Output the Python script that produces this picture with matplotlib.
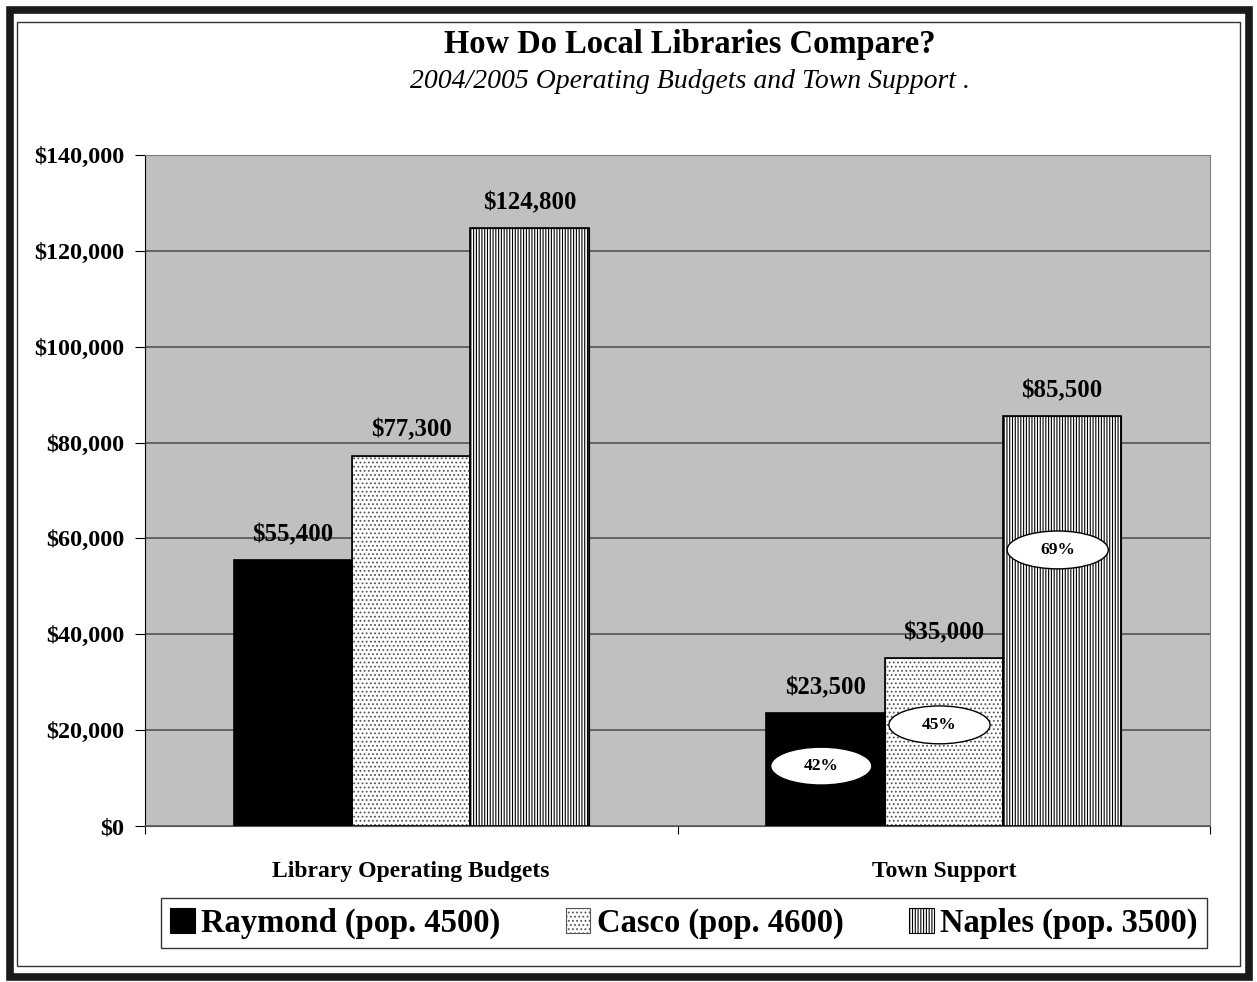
import matplotlib.pyplot as plt
import matplotlib.patches as mpatches
import numpy as np

categories = ["Library Operating Budgets", "Town Support"]
series = ["Raymond (pop. 4500)", "Casco (pop. 4600)", "Naples (pop. 3500)"]
raymond = [55400, 23500]
casco = [77300, 35000]
naples = [124800, 85500]
pct_labels = ["42%", "45%", "69%"]
pct_y = [12500, 21100, 57600]
yticks = [0, 20000, 40000, 60000, 80000, 100000, 120000, 140000]

plt.rcParams['font.family'] = ['Liberation Serif', 'DejaVu Serif']
plt.rcParams['hatch.linewidth'] = 0.8

fig = plt.figure(figsize=(12.57, 9.82), dpi=100)
ax = fig.add_axes([145 / 1257, 1 - 826 / 982, 1065 / 1257, 671 / 982])
ax.set_facecolor('#c0c0c0')

x = np.arange(len(categories))
width = 0.222
styles = [
    dict(facecolor='black', edgecolor='black', hatch=None),
    dict(facecolor='white', edgecolor='#555555', hatch='....'),
    dict(facecolor='white', edgecolor='black', hatch='||||||'),
]
all_vals = [raymond, casco, naples]
for i, (vals, st) in enumerate(zip(all_vals, styles)):
    b = ax.bar(x + (i - 1) * width, vals, width, label=series[i],
               facecolor=st['facecolor'], edgecolor=st['edgecolor'],
               hatch=st['hatch'], linewidth=0.8, zorder=3)
    # black outline on top of hatch edge colour
    for r in b:
        ax.add_patch(mpatches.Rectangle(r.get_xy(), r.get_width(), r.get_height(),
                                        fill=False, edgecolor='black', linewidth=1.2, zorder=4))
    for xi, v in zip(x + (i - 1) * width, vals):
        ax.annotate(f"${v:,.0f}", (xi, v), xytext=(0, 10), textcoords='offset points',
                    ha='center', va='bottom', fontsize=17.8, fontweight='bold', zorder=5)

# percentage ovals on the Town Support bars
for i in range(3):
    cx = x[1] + (i - 1) * width - 0.008
    ax.add_patch(mpatches.Ellipse((cx, pct_y[i]), 0.19, 7900, facecolor='white',
                                  edgecolor='black', linewidth=1, zorder=6))
    ax.text(cx, pct_y[i], pct_labels[i], ha='center', va='center',
            fontsize=12.5, fontweight='bold', zorder=7)

ax.set_ylim(0, 140000)
ax.set_xlim(-0.5, 1.5)
ax.set_yticks(yticks)
ax.set_yticklabels([f"${v:,.0f}" for v in yticks], fontsize=17.4, fontweight='bold')
ax.yaxis.grid(True, color='#555555', linewidth=1.2, zorder=1)
ax.set_axisbelow(True)
ax.set_xticks([-0.5, 0.5, 1.5])
ax.set_xticklabels([])
ax.tick_params(axis='x', length=6, width=0.8, direction='out')
ax.tick_params(axis='y', length=7, width=0.8, direction='out', pad=8)
for xi, c in zip(x, categories):
    ax.text(xi, -0.052, c, transform=ax.get_xaxis_transform(), ha='center', va='top',
            fontsize=17, fontweight='bold')
for s in ['top', 'right']:
    ax.spines[s].set_color('#808080')
ax.spines['left'].set_color('black')
ax.spines['bottom'].set_color('#555555')

fig.text(690 / 1257, 1 - 45 / 982, "How Do Local Libraries Compare?", ha='center', va='center',
         fontsize=23.5, fontweight='bold')
fig.text(690 / 1257, 1 - 81 / 982, "2004/2005 Operating Budgets and Town Support .", ha='center',
         va='center', fontsize=20, style='italic')

leg = fig.legend(loc='center', bbox_to_anchor=(684 / 1257, 1 - 923 / 982), ncol=3,
                 prop=dict(size=23.5, weight='bold'), frameon=True, fancybox=False,
                 edgecolor='black', handlelength=0.75, handleheight=0.8, handletextpad=0.2,
                 columnspacing=2.0, borderpad=0.3)
leg.get_frame().set_linewidth(1)

# outer frames
fig.patches.append(mpatches.Rectangle((9.5 / 1257, 5.5 / 982), 1239 / 1257, 967 / 982,
                                      transform=fig.transFigure, fill=False,
                                      edgecolor='#1a1a1a', linewidth=5.5))
fig.patches.append(mpatches.Rectangle((17 / 1257, 16.5 / 982), 1223 / 1257, 944 / 982,
                                      transform=fig.transFigure, fill=False,
                                      edgecolor='#333333', linewidth=1))

fig.savefig('out.png', dpi=100)
